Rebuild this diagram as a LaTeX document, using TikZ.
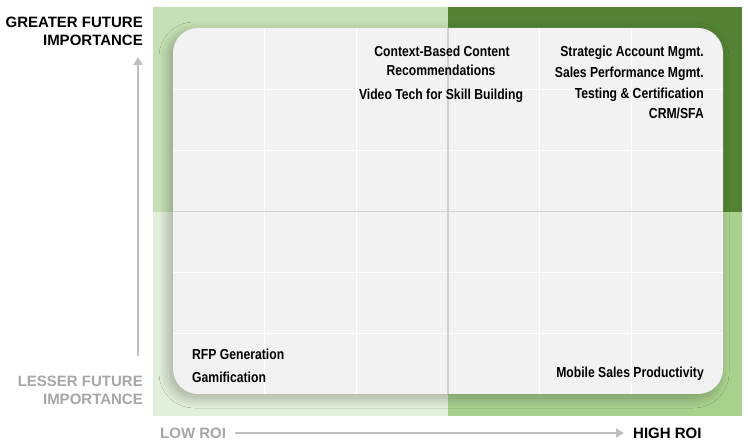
\documentclass[tikz,border=0pt]{standalone}
\usepackage{fontspec}
\setmainfont{Liberation Sans}
\newfontfamily\narrowsans[FakeStretch=0.84]{Liberation Sans}
\usetikzlibrary{arrows.meta,shadows.blur}
\definecolor{qTL}{HTML}{C5E0B4}
\definecolor{qTR}{HTML}{548235}
\definecolor{qBL}{HTML}{E2EFDA}
\definecolor{qBR}{HTML}{A9D18E}
\definecolor{panelfill}{HTML}{F2F2F2}
\definecolor{axisgray}{HTML}{BFBFBF}
\definecolor{labelgray}{HTML}{A6A6A6}
\definecolor{midline}{HTML}{D0D0D0}
\begin{document}
\begin{tikzpicture}[x=1pt,y=-1pt,
  item/.style={font=\narrowsans\bfseries\fontsize{14.5}{17}\selectfont, inner sep=0pt},
  axislabel/.style={font=\bfseries\fontsize{15}{18}\selectfont, inner sep=0pt, align=right},
  axisarrow/.style={draw=axisgray, line width=2.5pt, -{Triangle[width=9pt,length=8pt]}},
  gridline/.style={draw=white, line width=1pt},
  centerline/.style={draw=midline, line width=1.5pt}]
\useasboundingbox (0,0) rectangle (748,446);
% quadrants
\fill[qTL] (153,7) rectangle (448,212);
\fill[qTR] (448,7) rectangle (742,212);
\fill[qBL] (153,212) rectangle (448,416);
\fill[qBR] (448,212) rectangle (742,416);
% panel
\path[fill=panelfill, rounded corners=25pt,
  blur shadow={shadow xshift=-4pt, shadow yshift=-4pt, shadow blur radius=10pt, shadow blur steps=16, shadow opacity=28}]
  (173,28) rectangle (723,394);
\begin{scope}
  \clip[rounded corners=25pt] (173,28) rectangle (723,394);
  \foreach \gx in {264.7,356.3,539.7,631.3} \draw[gridline] (\gx,28) -- (\gx,394);
  \foreach \gy in {89.2,150.3,272.7,333.8} \draw[gridline] (173,\gy) -- (723,\gy);
  \draw[centerline] (448,28) -- (448,394);
  \draw[centerline] (173,211.5) -- (723,211.5);
\end{scope}
% items
\node[item, anchor=base] (cbc) at (442,56.5) {Context-Based Content};
\node[item, anchor=base] (rec) at (441,75.5) {Recommendations};
\node[item, anchor=base] (vtsb) at (441,99.5) {Video Tech for Skill Building};
\node[item, anchor=base east] (sam) at (704,57) {Strategic Account Mgmt.};
\node[item, anchor=base east] (spm) at (704,78) {Sales Performance Mgmt.};
\node[item, anchor=base east] (tc) at (704,98.5) {Testing \& Certification};
\node[item, anchor=base east] (crm) at (704,119) {CRM/SFA};
\node[item, anchor=base west] (rfp) at (192,360) {RFP Generation};
\node[item, anchor=base west] (gam) at (192,383) {Gamification};
\node[item, anchor=base east] (msp) at (704,378) {Mobile Sales Productivity};
% axis labels
\node[axislabel, anchor=north east] (gfi) at (143,17) {GREATER FUTURE\\IMPORTANCE};
\node[axislabel, anchor=north east, text=labelgray] (lfi) at (143,376) {LESSER FUTURE\\IMPORTANCE};
\node[axislabel, anchor=base west, text=labelgray] (low) at (160,439) {LOW ROI};
\node[axislabel, anchor=base west] (high) at (633,439) {HIGH ROI};
% arrows
\coordinate (vs) at (138,356);
\coordinate (ve) at (138,57);
\coordinate (hs) at (235,433);
\coordinate (he) at (624,433);
\draw[axisarrow] (vs) -- (ve);
\draw[axisarrow] (hs) -- (he);
\end{tikzpicture}
\end{document}
